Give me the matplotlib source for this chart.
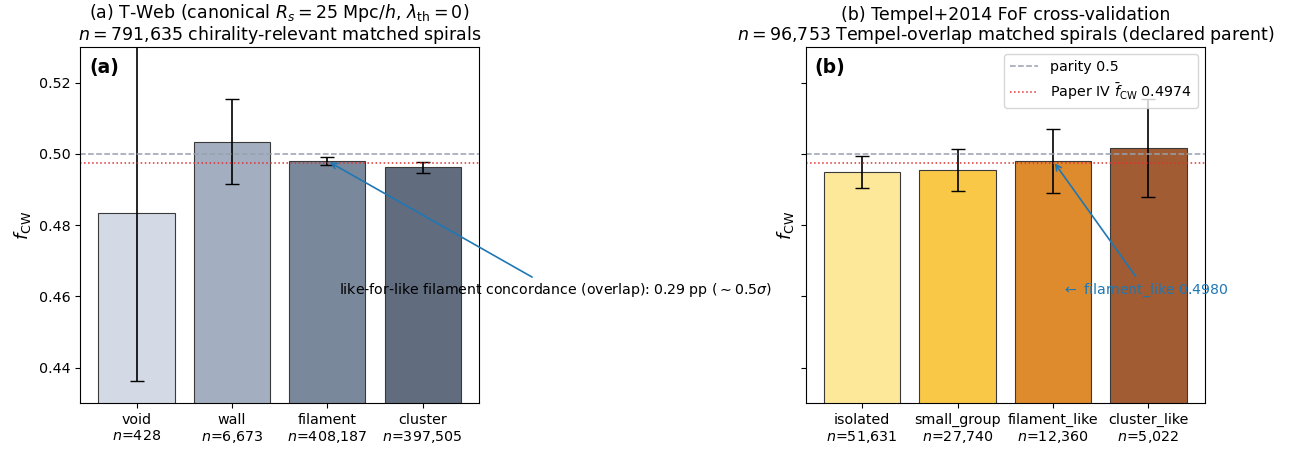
import numpy as np
import matplotlib
matplotlib.use("Agg")
import matplotlib.pyplot as plt

# --- data ---
tweb_classes = ["void", "wall", "filament", "cluster"]
tweb_n = [428, 6673, 408187, 397505]
tweb_f = [0.4835, 0.5034, 0.4980, 0.4962]
tweb_err = [0.0472, 0.0120, 0.0012, 0.0016]

tempel_classes = ["isolated", "small_group", "filament_like", "cluster_like"]
tempel_n = [51631, 27740, 12360, 5022]
tempel_f = [0.4949, 0.4955, 0.4980, 0.5017]
tempel_err = [0.0044, 0.0059, 0.0089, 0.0138]

parity = 0.5
paper_iv = 0.4974
n_tweb_total = 791635
n_tempel_total = 96753

tweb_colors = ["#d3dae5", "#a3afc1", "#7a889b", "#616c7e"]
tempel_colors = ["#fde89a", "#f9c846", "#de8b2e", "#a15c33"]

fig, (ax1, ax2) = plt.subplots(1, 2, figsize=(12.94, 4.51), dpi=100, sharey=True)
fig.subplots_adjust(left=0.062, right=0.931, top=0.896, bottom=0.106, wspace=0.82)


def panel(ax, classes, ns, f, err, colors):
    x = np.arange(len(classes))
    ax.bar(x, f, width=0.8, color=colors, edgecolor="#3a3a3a", linewidth=0.8)
    ax.errorbar(x, f, yerr=err, fmt="none", ecolor="black", capsize=5, elinewidth=1.2)
    ax.axhline(parity, color="#97a1b0", ls="--", lw=1.1, label="parity 0.5")
    ax.axhline(paper_iv, color="#e03030", ls=":", lw=1.1,
               label=r"Paper IV $\bar{f}_{\rm CW}$ %.4f" % paper_iv)
    ax.set_xticks(x)
    ax.set_xticklabels([f"{c}\n$n$={n:,}" for c, n in zip(classes, ns)], fontsize=10.3)
    ax.tick_params(axis="y", labelsize=10.3)
    ax.set_ylabel(r"$f_{\rm CW}$", fontsize=13)
    return x


x1 = panel(ax1, tweb_classes, tweb_n, tweb_f, tweb_err, tweb_colors)
x2 = panel(ax2, tempel_classes, tempel_n, tempel_f, tempel_err, tempel_colors)
ax1.set_ylim(0.43, 0.53)

ax1.set_title(r"(a) T-Web (canonical $R_s = 25$ Mpc/$h$, $\lambda_{\rm th} = 0$)" + "\n"
              + r"$n = $" + f"{n_tweb_total:,} chirality-relevant matched spirals",
              fontsize=12.5, linespacing=1.0, pad=5)
ax2.set_title("(b) Tempel+2014 FoF cross-validation\n"
              + r"$n = $" + f"{n_tempel_total:,} Tempel-overlap matched spirals (declared parent)",
              fontsize=12.5, linespacing=1.0, pad=5)

for ax, lab in [(ax1, "(a)"), (ax2, "(b)")]:
    ax.text(0.022, 0.97, lab, transform=ax.transAxes, fontsize=13.5, fontweight="bold", va="top")

ax2.legend(loc="upper right", fontsize=10.3)

# annotations
ax1.annotate(r"like-for-like filament concordance (overlap): 0.29 pp ($\sim 0.5\sigma$)",
             xy=(x1[2], tweb_f[2]), xytext=(4.39, 0.4617), fontsize=10.2, ha="center", va="center",
             arrowprops=dict(arrowstyle="->", color="#1f77b4", lw=1.2), annotation_clip=False)
ax2.annotate(r"$\leftarrow$ filament_like %.4f" % tempel_f[2],
             xy=(x2[2], tempel_f[2]), xytext=(2.97, 0.4617), fontsize=10.2, ha="center", va="center",
             color="#1f77b4", arrowprops=dict(arrowstyle="->", color="#1f77b4", lw=1.2))

fig.savefig("out.png", dpi=100)
